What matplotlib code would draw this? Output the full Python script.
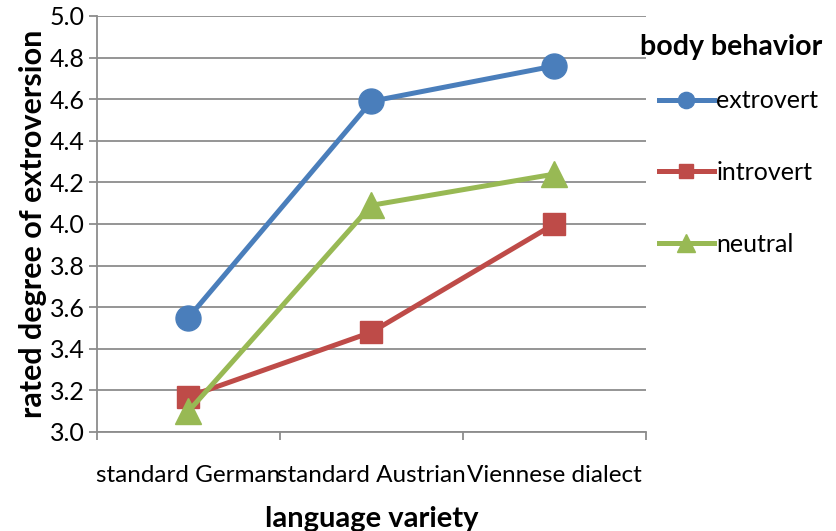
import matplotlib.pyplot as plt
import numpy as np

plt.rcParams['font.family'] = ['Lato', 'DejaVu Sans']

# Data
varieties = ["standard German", "standard Austrian", "Viennese dialect"]
extrovert = [3.55, 4.59, 4.76]
introvert = [3.17, 3.48, 4.00]
neutral = [3.10, 4.09, 4.24]

y_ticks = np.arange(3.0, 5.01, 0.2)
grid_col = "#8c8c8c"

fig = plt.figure(figsize=(8.37, 5.31), dpi=100)
ax = fig.add_axes([97 / 837, 1 - 432 / 531, (646 - 97) / 837, (432 - 16) / 531])

x = np.arange(len(varieties))
ax.plot(x, extrovert, '-o', color="#4A7EBB", lw=3.6, ms=18, label="extrovert")
ax.plot(x, introvert, '-s', color="#BE4B48", lw=3.6, ms=16, label="introvert")
ax.plot(x, neutral, '-^', color="#98B954", lw=3.6, ms=19, label="neutral")

ax.set_xlim(-0.5, 2.5)
ax.set_ylim(3.0, 5.0)
ax.set_yticks(y_ticks)
ax.set_yticklabels(["%.1f" % v for v in y_ticks], fontsize=18)
ax.yaxis.grid(True, color=grid_col, lw=1.3)
ax.set_axisbelow(True)

# category ticks sit between categories, labels centred on them
ax.set_xticks([-0.5, 0.5, 1.5, 2.5])
ax.set_xticklabels([])
ax.set_xticks(x, minor=True)
ax.set_xticklabels(varieties, minor=True, fontsize=17.5)
ax.tick_params(axis='x', which='minor', length=0, pad=24)
ax.tick_params(axis='x', which='major', length=6, color=grid_col, width=1.3)
ax.tick_params(axis='y', length=6, color=grid_col, width=1.3, pad=3)

for s in ["top", "right"]:
    ax.spines[s].set_visible(False)
for s in ["left", "bottom"]:
    ax.spines[s].set_color(grid_col)
    ax.spines[s].set_linewidth(1.3)

ax.set_ylabel("rated degree of extroversion", fontsize=22, fontweight='bold', labelpad=2)
ax.set_xlabel("language variety", fontsize=21, fontweight='bold', labelpad=14)

# legend title drawn separately so it can sit close to the entries
fig.text(640 / 837, 1 - 47 / 531, "body behavior", fontsize=20.5, fontweight='bold',
         ha='left', va='center')
fig.legend(loc="upper left", bbox_to_anchor=(0.772, 0.855), frameon=False,
           fontsize=18, markerscale=0.65, handlelength=2.2, labelspacing=1.95,
           handletextpad=0.1, borderpad=0)

fig.savefig("out.png", dpi=100)
